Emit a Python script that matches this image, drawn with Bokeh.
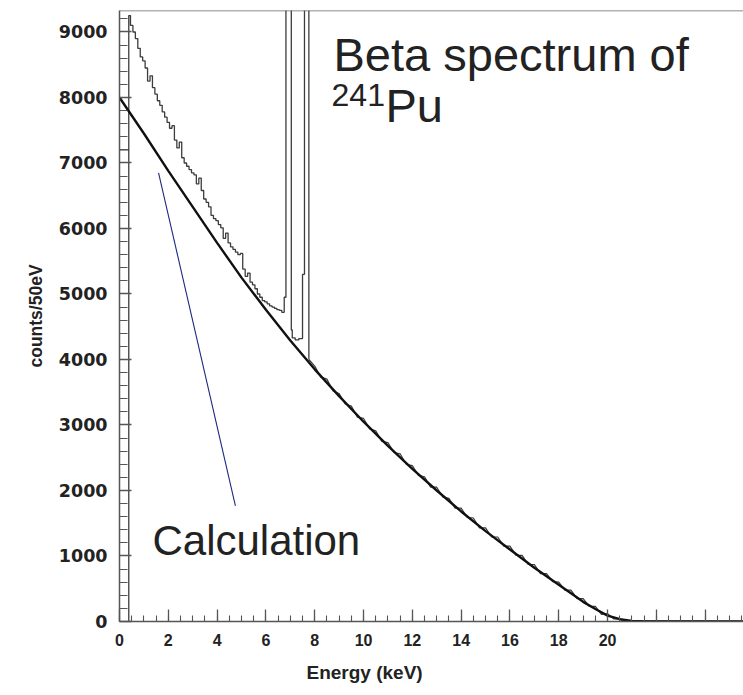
from bokeh.plotting import figure
from bokeh.models import Range1d, Span, Label, FixedTicker, CustomJSTickFormatter, Title
from bokeh.embed import file_html
from bokeh.resources import INLINE

# ---- data ----
calc_energy = [0, 1, 2, 3, 4, 5, 6, 7, 8, 9, 10, 11, 12, 13, 14, 15, 16, 17, 18, 19, 19.5, 20, 20.5, 21, 21.5, 26]
calc_counts = [8000, 7450, 6880, 6330, 5780, 5250, 4760, 4290, 3850, 3440, 3050, 2680, 2330, 2000, 1680, 1380,
               1100, 820, 560, 300, 190, 90, 35, 10, 0, 0]

# measured histogram, low-energy part incl. the two off-scale lines
meas_energy = [0.0, 0.38, 0.45, 0.55, 0.65, 0.75, 0.85, 0.95, 1.05, 1.15, 1.25, 1.35, 1.45, 1.55, 1.65, 1.75,
               1.85, 1.95, 2.05, 2.15, 2.25, 2.35, 2.45, 2.55, 2.65, 2.75, 2.85, 2.95, 3.05, 3.15, 3.25, 3.35,
               3.45, 3.55, 3.65, 3.75, 3.85, 3.95, 4.05, 4.15, 4.25, 4.35, 4.45, 4.55, 4.65, 4.75, 4.85, 4.95,
               5.05, 5.15, 5.25, 5.35, 5.45, 5.55, 5.65, 5.75, 5.85, 5.95, 6.05, 6.15, 6.25, 6.35, 6.45, 6.55,
               6.65, 6.75, 6.82, 7.04, 7.08, 7.2, 7.35, 7.5, 7.58, 7.76]
meas_counts = [7200, 9250, 9100, 9000, 8900, 8750, 8620, 8560, 8450, 8250, 8330, 8150, 8050, 7950, 7880, 7780,
               7700, 7620, 7530, 7570, 7350, 7230, 7320, 7080, 7000, 6950, 6900, 6850, 6820, 6680, 6770, 6580,
               6450, 6400, 6330, 6200, 6150, 6120, 6060, 6010, 5850, 5930, 5780, 5720, 5680, 5640, 5600, 5620,
               5380, 5270, 5320, 5180, 5140, 5080, 5000, 4950, 4900, 4880, 4850, 4820, 4800, 4780, 4760, 4750,
               4720, 4950, 30000, 4450, 4330, 4300, 4320, 5300, 30000, 4000]

# measured spectrum above the lines (follows the calculation with small scatter)
tail_energy = [7.76, 8.0, 8.25, 8.5, 8.75, 9.0, 9.25, 9.5, 9.75, 10.0, 10.25, 10.5, 10.75, 11.0, 11.25, 11.5,
               11.75, 12.0, 12.25, 12.5, 12.75, 13.0, 13.25, 13.5, 13.75, 14.0, 14.25, 14.5, 14.75, 15.0, 15.25,
               15.5, 15.75, 16.0, 16.25, 16.5, 16.75, 17.0, 17.25, 17.5, 17.75, 18.0, 18.25, 18.5, 18.75, 19.0,
               19.25, 19.5, 19.75, 20.0, 20.25, 20.5, 20.75, 21.0, 26.0]
tail_counts = [4000, 3900, 3730, 3700, 3520, 3480, 3320, 3290, 3120, 3100, 2940, 2910, 2750, 2730, 2580, 2560,
               2400, 2380, 2230, 2210, 2050, 2050, 1900, 1880, 1730, 1730, 1590, 1580, 1430, 1430, 1290,
               1290, 1150, 1150, 1010, 1010, 870, 870, 730, 730, 610, 600, 480, 480, 350, 350,
               230, 230, 110, 120, 40, 40, 0, 10, 0]

x_major = [0, 2, 4, 6, 8, 10, 12, 14, 16, 18, 20, 22, 24]
x_minor = [i * 0.5 for i in range(0, 52)]
y_major = [0, 1000, 2000, 3000, 4000, 5000, 6000, 7000, 8000, 9000]
y_minor = [i * 200 for i in range(0, 47)]

X_END = 25.57
Y_END = 9328
TXT = "#222222"

p = figure(width=743, height=695, output_backend="svg", toolbar_location=None,
           x_range=Range1d(0, X_END), y_range=Range1d(0, Y_END),
           min_border_left=119, min_border_right=0, min_border_top=10, min_border_bottom=74)
p.outline_line_color = None
p.grid.visible = False
p.background_fill_color = "white"
p.border_fill_color = "white"

MEAS = "#3c3c3c"
p.step(meas_energy, meas_counts, mode="after", line_color=MEAS, line_width=1.3)
p.segment(x0=[meas_energy[1]], y0=[0], x1=[meas_energy[1]], y1=[meas_counts[0]],
          line_color=MEAS, line_width=1.3)
p.line(tail_energy, tail_counts, line_color=MEAS, line_width=1.2)
p.line(calc_energy, calc_counts, line_color="#111111", line_width=2.4)

p.add_layout(Span(location=Y_END, dimension="width", line_color="#666666", line_width=1.5))

for ax in (p.xaxis[0], p.yaxis[0]):
    ax.axis_line_color = "#555555"
    ax.axis_line_width = 1.5
    ax.major_tick_line_color = "#555555"
    ax.minor_tick_line_color = "#555555"
    ax.major_tick_line_width = 1.3
    ax.minor_tick_line_width = 1.1
    ax.major_tick_out = 0
    ax.minor_tick_out = 0
    ax.major_label_text_color = TXT
    ax.major_label_text_font_style = "bold"

p.xaxis.ticker = FixedTicker(ticks=x_major, minor_ticks=x_minor)
p.xaxis.formatter = CustomJSTickFormatter(code="return tick <= 20 ? tick.toFixed(0) : '';")
p.xaxis.major_tick_in = 12
p.xaxis.minor_tick_in = 6
p.xaxis.major_label_text_font = "Liberation Sans"
p.xaxis.major_label_text_font_size = "16px"
p.xaxis.major_label_standoff = 12

p.yaxis.ticker = FixedTicker(ticks=y_major, minor_ticks=y_minor)
p.yaxis.major_tick_in = 12
p.yaxis.minor_tick_in = 8
p.yaxis.major_label_text_font = "DejaVu Sans"
p.yaxis.major_label_text_font_size = "17.5px"
p.yaxis.major_label_standoff = 12
p.yaxis.axis_label = "counts/50eV"
p.yaxis.axis_label_text_font = "Liberation Sans"
p.yaxis.axis_label_text_font_style = "bold"
p.yaxis.axis_label_text_font_size = "17.5px"
p.yaxis.axis_label_text_color = TXT
p.yaxis.axis_label_standoff = 10

# x title, placed under the 0-20 keV part of the axis
p.add_layout(Title(text="Energy (keV)", align="left", offset=187, standoff=23,
                   text_font="Liberation Sans", text_font_style="bold", text_font_size="19px",
                   text_color=TXT), "below")

# annotations
p.add_layout(Label(x=8.77, y=8652, text="Beta spectrum of", text_font="Liberation Sans",
                   text_font_size="47px", text_color=TXT, text_baseline="alphabetic"))
p.add_layout(Label(x=8.69, y=8041, text="241", text_font="Liberation Sans",
                   text_font_size="32px", text_color=TXT, text_baseline="alphabetic"))
p.add_layout(Label(x=10.9, y=7873, text="Pu", text_font="Liberation Sans",
                   text_font_size="47px", text_color=TXT, text_baseline="alphabetic"))
p.add_layout(Label(x=1.35, y=1232, text="Calculation", text_font="Liberation Sans",
                   text_font_size="42px", text_color=TXT, text_baseline="alphabetic"))
p.segment(x0=[1.6], y0=[6850], x1=[4.75], y1=[1766], line_color="#1c2a80", line_width=1.1)

open("out.html", "w").write(file_html(p, INLINE))
